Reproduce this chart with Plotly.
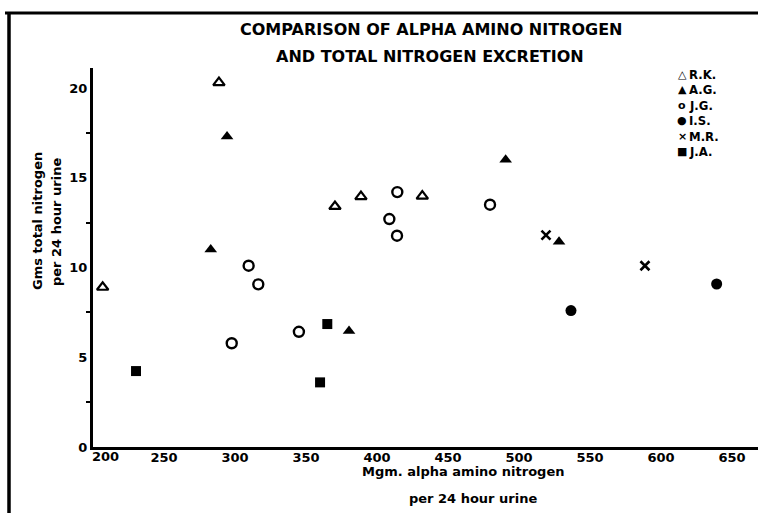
import plotly.graph_objects as go

# ---- data ----
rk_x = [206.8, 288.7, 370.4, 388.7, 431.9]
rk_y = [8.9, 20.3, 13.4, 13.95, 13.98]
ag_x = [282.9, 294.4, 380.3, 490.6, 528.2]
ag_y = [11.0, 17.3, 6.46, 16.0, 11.44]
jg_x = [297.7, 309.6, 316.4, 345.0, 408.7, 414.1, 414.3, 479.6]
jg_y = [5.78, 10.1, 9.06, 6.42, 12.7, 11.77, 14.2, 13.5]
is_x = [536.6, 639.2]
is_y = [7.6, 9.08]
mr_x = [519.0, 588.7]
mr_y = [11.8, 10.1]
ja_x = [230.3, 359.9, 365.0]
ja_y = [4.23, 3.6, 6.85]

x_ticks = [200, 250, 300, 350, 400, 450, 500, 550, 600, 650]
x_ticktext = ["200", "250", "300", "350", "400", "450", "500", "550", "600", "650"]
y_ticks = [0, 5, 10, 15, 20]
y_ticktext = ["0", "5", "10", "15", "20"]

legend_names = ["R.K.", "A.G.", "J.G.", "I.S.", "M.R.", "J.A."]
legend_glyphs = ["\u25b3", "\u25b2", "o", "\u25cf", "\u00d7", "\u25a0"]

W, H = 758, 513
L, R, T, B = 93, 0, 68, 66
PW, PH = W - L - R, H - T - B

def px_x(p):
    return (p - L) / PW

def px_y(p):
    return (H - B - p) / PH

BOLD = "DejaVu Sans"
NARROW = "Liberation Sans Narrow, DejaVu Sans Condensed, Arial Narrow, Liberation Sans, sans-serif"

fig = go.Figure()

def add(x, y, name, symbol, size, lw=0, color="black"):
    fig.add_trace(go.Scatter(
        x=x, y=y, mode="markers", name=name, showlegend=False,
        marker=dict(symbol=symbol, size=size, color=color,
                    line=dict(color="black", width=lw)),
    ))

add(rk_x, rk_y, "R.K.", "triangle-up-open", 10, 2.2)
add(ag_x, ag_y, "A.G.", "triangle-up", 11, 0)
add(jg_x, jg_y, "J.G.", "circle-open", 10, 2.4)
add(is_x, is_y, "I.S.", "circle", 11, 0)
add(mr_x, mr_y, "M.R.", "x-thin-open", 9, 2.6)
add(ja_x, ja_y, "J.A.", "square", 10, 0)

annotations = []

def note(text, xp, yp, size, family=BOLD, angle=0, xanchor="center"):
    annotations.append(dict(text="<b>" + text + "</b>", x=px_x(xp), y=px_y(yp),
                            xref="paper", yref="paper", showarrow=False,
                            xanchor=xanchor, yanchor="middle", textangle=angle,
                            font=dict(family=family, size=size, color="black")))

# title
note("COMPARISON OF ALPHA AMINO NITROGEN", 431, 30, 16)
note("AND TOTAL NITROGEN EXCRETION", 430, 56, 16)
# x axis title (two lines)
note("Mgm. alpha amino nitrogen", 463, 471, 13)
note("per 24 hour urine", 473, 498, 13)
# y axis title (two lines, rotated)
note("Gms total nitrogen", 37, 221, 13, angle=-90)
note("per 24 hour urine", 57, 222, 13, angle=-90)
# legend
row_y = [74, 89.5, 105, 120.5, 136, 151]
for name, glyph, ry in zip(legend_names, legend_glyphs, row_y):
    note(glyph, 682, ry, 11)
    note(name, 687, ry, 13, family=NARROW, xanchor="left")

# first x tick label is nudged right of the axis corner (as in the reference)
annotations.append(dict(text="<b>" + x_ticktext[0] + "</b>", x=x_ticks[0], y=0,
                        xref="x", yref="y", showarrow=False, xanchor="center",
                        yanchor="middle", xshift=12, yshift=-9,
                        font=dict(family=BOLD, size=13, color="black")))

shapes = [
    dict(type="line", xref="paper", yref="paper", x0=px_x(9), x1=px_x(9),
         y0=px_y(12), y1=px_y(513), line=dict(color="black", width=3.5)),
    dict(type="line", xref="paper", yref="paper", x0=px_x(5), x1=px_x(758),
         y0=px_y(13), y1=px_y(13), line=dict(color="black", width=3)),
]

fig.update_layout(
    width=W, height=H,
    margin=dict(l=L, r=R, t=T, b=B, pad=0),
    paper_bgcolor="white", plot_bgcolor="white",
    annotations=annotations, shapes=shapes,
    showlegend=False,
    xaxis=dict(range=[200, 200 + PW / 1.42], tickvals=x_ticks[1:],
               ticktext=["<b>" + t + "</b>" for t in x_ticktext[1:]], automargin=False,
               showgrid=False, zeroline=False, showline=True, linecolor="black", linewidth=3,
               ticks="", ticklabelstandoff=-4,
               tickfont=dict(family=BOLD, size=13, color="black")),
    yaxis=dict(range=[0, PH / 17.95], tickvals=y_ticks,
               ticktext=["<b>" + t + "</b>" for t in y_ticktext], automargin=False,
               showgrid=False, zeroline=False, showline=True, linecolor="black", linewidth=3,
               ticks="", tickfont=dict(family=BOLD, size=13, color="black"),
               minor=dict(tickvals=[2.5, 7.5, 12.5, 17.5], ticks="outside", ticklen=4,
                          tickwidth=2, tickcolor="black")),
)

fig.write_html("out.html", config={"displayModeBar": False},
               post_script="document.body.style.margin='0';document.body.style.padding='0';")
